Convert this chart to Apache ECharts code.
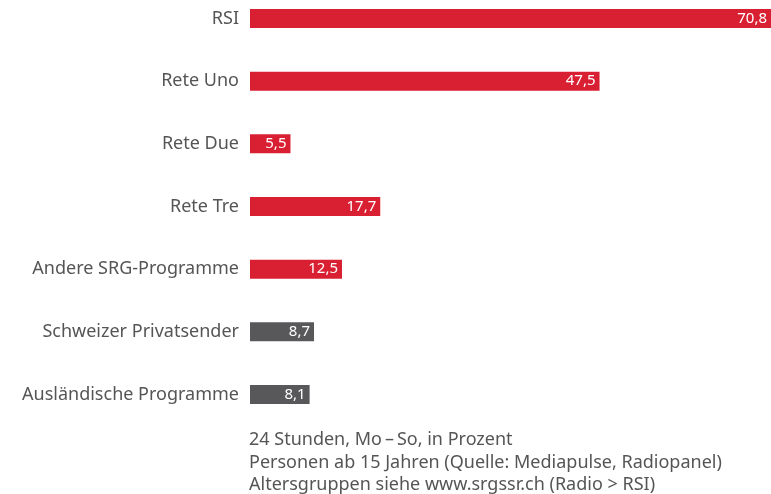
<!DOCTYPE html>
<html lang="de">
<head>
    <meta charset="UTF-8">
    <title>RSI Reichweite</title>
    <script src="https://cdn.jsdelivr.net/npm/echarts@6/dist/echarts.min.js"></script>
    <style>
        body { margin: 0; background: #fff; }
        #chart { width: 771px; height: 494px; }
    </style>
</head>
<body>
<div id="chart"></div>
<script>
    const categories = ['RSI', 'Rete Uno', 'Rete Due', 'Rete Tre', 'Andere SRG-Programme', 'Schweizer Privatsender', 'Ausländische Programme'];
    const values = [70.8, 47.5, 5.5, 17.7, 12.5, 8.7, 8.1];
    const barColors = ['#d92032', '#d92032', '#d92032', '#d92032', '#d92032', '#58585a', '#58585a'];
    const notes = [
        '24 Stunden, Mo\u2009\u2013\u2009So, in Prozent',
        'Personen ab 15 Jahren (Quelle: Mediapulse, Radiopanel)',
        'Altersgruppen siehe www.srgssr.ch (Radio > RSI)'
    ];

    const font = '"Noto Sans", sans-serif';
    const chart = echarts.init(document.getElementById('chart'));
    chart.setOption({
        animation: false,
        title: {
            text: notes.join('\n'),
            left: 249,
            top: 429,
            padding: 0,
            textStyle: { fontFamily: font, fontSize: 18, fontWeight: 'normal', color: '#555', lineHeight: 22.5 }
        },
        // Kategorien auf Punkte statt Bänder legen, damit erste/letzte Zeile genau sitzt
        grid: { left: 250, right: 0, top: 18.5, height: 376, containLabel: false },
        xAxis: { type: 'value', min: 0, max: 70.8, show: false },
        yAxis: {
            type: 'category',
            inverse: true,
            boundaryGap: false,
            data: categories,
            axisLine: { show: false },
            axisTick: { show: false },
            splitLine: { show: false },
            axisLabel: { fontFamily: font, fontSize: 18, color: '#555', margin: 11 }
        },
        series: [{
            type: 'bar',
            clip: false,
            barWidth: 19,
            data: values.map((v, i) => ({ value: v, itemStyle: { color: barColors[i] } })),
            label: {
                show: true,
                position: 'insideRight',
                distance: 4,
                color: '#fff',
                fontFamily: font,
                fontSize: 15,
                formatter: p => p.value.toFixed(1).replace('.', ',')
            }
        }]
    });
</script>
</body>
</html>
